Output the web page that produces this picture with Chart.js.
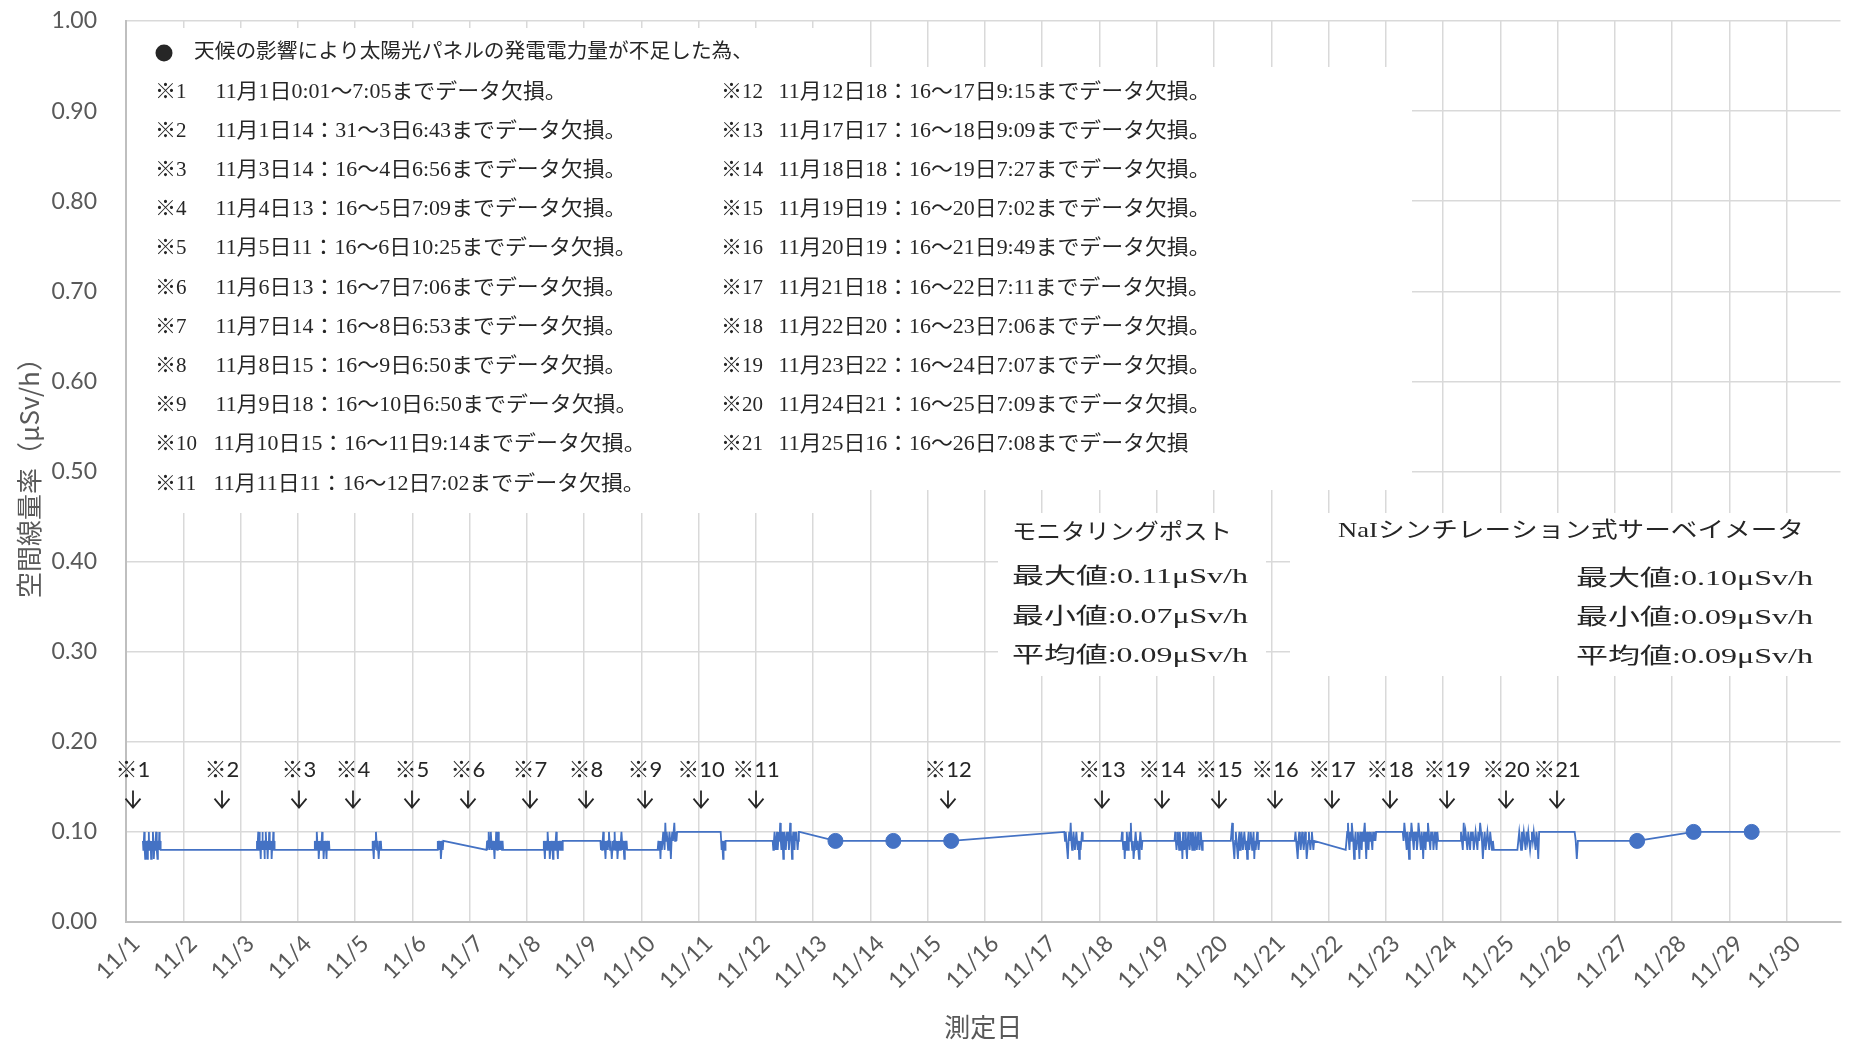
<!DOCTYPE html>
<html>
<head>
<meta charset="utf-8">
<script src="https://cdn.jsdelivr.net/npm/chart.js@4.4.1/dist/chart.umd.min.js"></script>
<style>
  html,body{margin:0;padding:0;background:#fff;}
  #wrap{width:1849px;height:1043px;}
</style>
</head>
<body>
<div id="wrap"><canvas id="chart" width="1849" height="1043"></canvas></div>
<script>
// ---- data ----
const dayLabels = ['11/1','11/2','11/3','11/4','11/5','11/6','11/7','11/8','11/9','11/10',
  '11/11','11/12','11/13','11/14','11/15','11/16','11/17','11/18','11/19','11/20',
  '11/21','11/22','11/23','11/24','11/25','11/26','11/27','11/28','11/29','11/30'];

// measured periods (start / end, "day h:mm") and the readings in each (μSv/h x100)
const segStart = ['1 7:05','3 6:43','4 6:56','5 7:09','6 10:25','7 7:06','8 6:53','9 6:50','10 6:50','11 9:14',
  '12 7:02','17 9:15','18 9:09','19 7:27','20 7:02','21 9:49','22 7:11','23 7:06','24 7:07','25 7:09','26 7:08'];
const segEnd = ['1 14:31','3 14:16','4 13:16','5 11:16','6 13:16','7 14:16','8 15:16','9 18:16','10 15:16','11 11:16',
  '12 18:16','17 17:16','18 18:16','19 19:16','20 19:16','21 18:16','22 20:16','23 22:16','24 21:16','25 16:16','26 8:30'];
const seg01 = [9,8,9,10,8,7,9,8,9,8,7,8,9,10,8,9,8,9,7,8,9,8,10,9,7,8,9,8,9,10,9,8,7,8,9,8,10,8,9,8];
const seg02 = [8,9,8,9,10,9,8,10,9,8,7,9,8,9,10,8,9,8,9,7,8,9,10,9,8,9,8,7,9,8,10,9,8,9,8,9,7,8,9,8,10,8,9,8];
const seg03 = [8,9,8,9,8,10,9,8,9,7,8,9,8,9,8,9,10,8,9,7,8,9,8,9,8,7,9,8,9,8,9,8];
const seg04 = [8,9,8,7,9,8,9,10,9,8,9,8,7,8,9,8,9,8,8];
const seg05 = [8,9,8,9,8,9,7,8,9,8,9,9];
const seg06 = [8,9,8,9,10,9,8,9,10,9,8,9,8,9,8,7,9,8,10,9,8,9,10,8,9,8,9,8,9,8,9,8,8];
const seg07 = [8,9,8,7,9,8,9,8,10,9,8,9,7,8,9,8,9,8,7,9,8,9,8,9,10,9,8,7,9,8,9,8,9,8,9,8,9,9];
const seg08 = [9,8,9,8,9,10,8,9,8,7,9,8,9,8,9,10,9,8,9,8,7,8,9,8,9,10,8,9,8,9,7,8,9,8,9,8,9,10,9,8,9,8,7,8,9,8,9,8,8];
const seg09 = [8,9,8,9,7,9,8,9,10,9,8,11,9,10,9,8,9,10,9,7,9,10,9,10,11,9,10,9,10,10];
const seg10 = [10,9,8,9,8,7,9,8,9,8,9];
const seg11 = [9,8,9,10,9,8,9,10,8,9,10,9,11,9,8,10,9,7,9,10,9,8,9,10,9,10,8,9,11,10,9,7,9,10,9,8,10,9,10,9,8,9,10,10];
const seg12 = [10,9,10,9,8,7,9,10,9,11,9,8,9,10,9,8,9,10,9,8,9,7,9,8,9,10,9,9];
const seg13 = [9,10,9,8,9,7,9,8,10,9,8,9,10,9,11,9,8,9,7,8,9,10,9,8,9,8,7,9,10,9,8,9,9];
const seg14 = [9,10,9,8,9,10,9,8,10,9,8,9,7,10,9,8,9,10,8,7,9,10,9,8,9,10,9,8,10,9,8,9,10,9,8,9,10,9,8,9,10,9,8,9];
const seg15 = [9,10,11,9,8,7,9,10,9,8,7,9,10,8,9,10,9,8,9,10,9,8,9,7,9,10,8,9,10,9,8,9,10,7,9,8,9,10,9,8,9,9];
const seg16 = [9,10,9,8,7,9,10,9,8,9,10,9,8,9,10,9,7,8,9,10,9,8,9,10,9,8,9,9];
const seg17 = [8,9,10,11,9,8,10,9,11,10,9,7,9,10,8,9,10,9,7,10,9,8,10,9,10,11,9,7,10,9,8,10,9,10,9,8,10,9,10,9,10,10];
const seg18 = [10,9,11,10,9,8,10,9,7,10,9,11,10,9,8,10,9,10,8,9,11,10,9,8,10,9,7,10,9,8,10,9,11,10,9,8,10,9,10,8,9,10,9,8,10,9,9];
const seg19 = [9,10,9,8,11,9,10,9,8,10,9,8,10,9,10,8,9,10,9,8,10,9,11,10,9,7,9,10,8,9,10,9,8,10,9,8,9,8];
const seg20 = [8,9,10,9,8,10,9,10,9,8,10,9,10,9,8,9,10,9,10,9,8,10,9,7,10];
const seg21 = [10,9,7,9];
const segValues = [seg01,seg02,seg03,seg04,seg05,seg06,seg07,seg08,seg09,seg10,seg11,
  seg12,seg13,seg14,seg15,seg16,seg17,seg18,seg19,seg20,seg21];

// ● days (not enough solar power)
const dotTimes = ['13 9:20','14 9:35','15 9:50','27 9:20','28 9:00','29 9:20'];
const dotValues = [0.09,0.09,0.09,0.09,0.10,0.10];

// ※ notes: where the arrows point, and the texts
const noteMarks = ['※1','※2','※3','※4','※5','※6','※7','※8','※9','※10','※11',
  '※12','※13','※14','※15','※16','※17','※18','※19','※20','※21'];
const noteAt = [0.12,1.68,3.02,3.97,5.0,5.97,7.05,8.03,9.07,10.04,11.0,
  14.35,17.05,18.09,19.08,20.06,21.06,22.07,23.06,24.1,24.99];
const noteHead = '天候の影響により太陽光パネルの発電電力量が不足した為、';
const noteText = [
  '11月1日0:01～7:05までデータ欠損。',
  '11月1日14：31～3日6:43までデータ欠損。',
  '11月3日14：16～4日6:56までデータ欠損。',
  '11月4日13：16～5日7:09までデータ欠損。',
  '11月5日11：16～6日10:25までデータ欠損。',
  '11月6日13：16～7日7:06までデータ欠損。',
  '11月7日14：16～8日6:53までデータ欠損。',
  '11月8日15：16～9日6:50までデータ欠損。',
  '11月9日18：16～10日6:50までデータ欠損。',
  '11月10日15：16～11日9:14までデータ欠損。',
  '11月11日11：16～12日7:02までデータ欠損。',
  '11月12日18：16～17日9:15までデータ欠損。',
  '11月17日17：16～18日9:09までデータ欠損。',
  '11月18日18：16～19日7:27までデータ欠損。',
  '11月19日19：16～20日7:02までデータ欠損。',
  '11月20日19：16～21日9:49までデータ欠損。',
  '11月21日18：16～22日7:11までデータ欠損。',
  '11月22日20：16～23日7:06までデータ欠損。',
  '11月23日22：16～24日7:07までデータ欠損。',
  '11月24日21：16～25日7:09までデータ欠損。',
  '11月25日16：16～26日7:08までデータ欠損'
];
const statPost = ['モニタリングポスト','最大値:0.11μSv/h','最小値:0.07μSv/h','平均値:0.09μSv/h'];
const statNaI = ['NaIシンチレーション式サーベイメータ','最大値:0.10μSv/h','最小値:0.09μSv/h','平均値:0.09μSv/h'];

// ---- build points ----
function toDay(s){
  const [d, hm] = s.split(' ');
  const [h, m] = hm.split(':').map(Number);
  return (Number(d) - 1) + h/24 + m/1440;
}
const points = [];
segValues.forEach((vals, i) => {
  const t0 = toDay(segStart[i]), t1 = toDay(segEnd[i]);
  vals.forEach((v, j) => points.push({x: t0 + (t1 - t0) * j / (vals.length - 1), y: v / 100}));
});
const dots = dotTimes.map((t, i) => ({x: toDay(t), y: dotValues[i]}));
dots.forEach(p => points.push(p));
points.sort((a, b) => a.x - b.x);

const blue = '#4472c4';
const grey = '#595959';
const ink = '#262626';
const serif = '"Liberation Serif","Noto Sans CJK JP"';

// draw text squeezed/stretched to a given width
function fitText(ctx, text, x, y, w, align){
  const nat = ctx.measureText(text).width;
  ctx.save();
  ctx.translate(align === 'right' ? x - w : x, y);
  ctx.scale(w / nat, 1);
  ctx.textAlign = 'left';
  ctx.fillText(text, 0, 0);
  ctx.restore();
}

const notesPlugin = {
  id: 'notes',
  beforeDatasetsDraw(chart){
    const ctx = chart.ctx;
    ctx.save();
    ctx.fillStyle = '#fff';
    ctx.fillRect(127, 28, 725, 485);    // left text box
    ctx.fillRect(700, 67, 712, 423);    // right text box
    ctx.fillRect(998, 513, 268, 163);   // monitoring post box
    ctx.fillRect(1290, 513, 559, 163);  // NaI box
    ctx.restore();
  },
  afterDatasetsDraw(chart){
    const ctx = chart.ctx;
    const xs = chart.scales.x, ys = chart.scales.y;
    ctx.save();
    ctx.textBaseline = 'middle';
    ctx.fillStyle = ink;

    // header line
    ctx.beginPath();
    ctx.arc(164, 53, 8.5, 0, Math.PI * 2);
    ctx.fill();
    ctx.font = '20px ' + serif;
    fitText(ctx, noteHead, 194, 53, 559);

    // ※ list
    ctx.font = '21px ' + serif;
    const sxL = 411 / ctx.measureText(noteText[1]).width;
    const sxR = 432 / ctx.measureText(noteText[11]).width;
    noteText.forEach((t, i) => {
      const left = i < 11;
      const row = left ? i : i - 11;
      const y = 92 + row * 39.2;
      const mx = left ? 155 : 721;
      const tx = left ? (i >= 9 ? 213.5 : 215.5) : 778.6;
      ctx.textAlign = 'left';
      ctx.fillText(noteMarks[i], mx, y);
      const w = ctx.measureText(t).width * (left ? sxL : sxR);
      fitText(ctx, t, tx, y, w);
    });

    // stats boxes
    ctx.font = '22px ' + serif;
    fitText(ctx, statPost[0], 1012, 533, 220);
    [577, 617, 656].forEach((y, k) => fitText(ctx, statPost[k + 1], 1012, y, 236));
    fitText(ctx, statNaI[0], 1338, 531, 466);
    [579, 618, 657].forEach((y, k) => fitText(ctx, statNaI[k + 1], 1813, y, 237, 'right'));

    // ※N with arrows over the line
    ctx.textAlign = 'center';
    ctx.strokeStyle = ink;
    ctx.lineWidth = 1.8;
    ctx.font = '22px Lato,"Noto Sans CJK JP"';
    noteAt.forEach((d, i) => {
      const px = Math.round(xs.getPixelForValue(d));
      ctx.fillText(noteMarks[i], px, ys.getPixelForValue(0.169));
      const top = ys.getPixelForValue(0.146), tip = ys.getPixelForValue(0.127);
      ctx.beginPath();
      ctx.moveTo(px, top);
      ctx.lineTo(px, tip);
      ctx.moveTo(px - 7.5, tip - 9);
      ctx.lineTo(px, tip);
      ctx.lineTo(px + 7.5, tip - 9);
      ctx.stroke();
    });
    ctx.restore();
  }
};

new Chart(document.getElementById('chart'), {
  type: 'line',
  data: {
    datasets: [
      {
        type: 'scatter',
        data: dots,
        pointRadius: 7.5,
        pointBackgroundColor: blue,
        pointBorderColor: blue,
        showLine: false
      },
      {
        data: points,
        borderColor: blue,
        borderWidth: 1.8,
        pointRadius: 0,
        tension: 0
      }
    ]
  },
  options: {
    responsive: false,
    animation: false,
    layout: {padding: {top: 21, right: 0, left: 0, bottom: 0}},
    plugins: {legend: {display: false}, tooltip: {enabled: false}},
    scales: {
      x: {
        type: 'linear',
        min: 0,
        max: 29.94,
        grid: {color: '#d9d9d9', lineWidth: 1.5, drawTicks: false},
        border: {color: '#bfbfbf', width: 2},
        ticks: {
          stepSize: 1,
          includeBounds: false,
          autoSkip: false,
          minRotation: 45,
          maxRotation: 45,
          padding: 8,
          labelOffset: 10,
          color: grey,
          font: {family: 'Lato', size: 23},
          callback: v => dayLabels[v] ?? ''
        },
        title: {display: true, text: '測定日', color: grey,
          font: {family: '"Noto Sans CJK JP"', size: 26}, padding: {top: 0, bottom: 0}},
        afterFit(s){ s.height = 121; s.paddingLeft = 0; s.paddingRight = 0; }
      },
      y: {
        min: 0,
        max: 1,
        grid: {color: '#d9d9d9', lineWidth: 1.5, drawTicks: false},
        border: {color: '#bfbfbf', width: 2},
        ticks: {
          stepSize: 0.1,
          padding: 29,
          color: grey,
          font: {family: 'Lato', size: 23},
          callback: v => v.toFixed(2)
        },
        title: {display: true, text: '空間線量率（μSv/h）', color: grey,
          font: {family: '"Noto Sans CJK JP"', size: 26}, padding: {top: 14, bottom: 0}},
        afterFit(s){ s.width = 126; s.paddingTop = 0; s.paddingBottom = 0; }
      }
    }
  },
  plugins: [notesPlugin]
});
</script>
</body>
</html>
